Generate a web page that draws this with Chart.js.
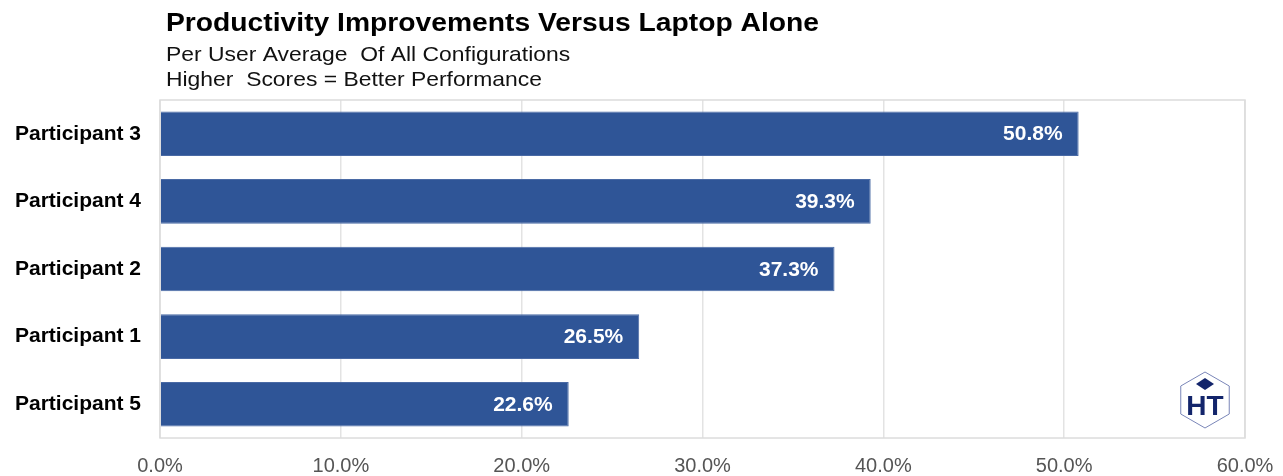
<!DOCTYPE html>
<html lang="en">
<head>
    <meta charset="UTF-8">
    <title>Productivity Improvements</title>
    <style>
        body { margin: 0; background: #fff; }
        #wrap { width: 1283px; height: 476px; }
    </style>
</head>
<body>

    <div id="wrap">
        <canvas id="myChart"></canvas>
    </div>

    <script src="https://cdn.jsdelivr.net/npm/chart.js@4.4.0/dist/chart.umd.min.js"></script>

    <script>

const participants = ['Participant 3', 'Participant 4', 'Participant 2', 'Participant 1', 'Participant 5'];
const improvement = [50.8, 39.3, 37.3, 26.5, 22.6];

const titleText = 'Productivity Improvements Versus Laptop Alone';
const subtitleLines = ['Per User Average  Of All Configurations', 'Higher  Scores = Better Performance'];

const FONT = '"Liberation Sans", Arial, sans-serif';

// reference text renders a touch wider than Liberation Sans -> stretch it a little
function wideText(ctx, text, x, y, sx) {
  ctx.save();
  ctx.translate(x, y);
  ctx.scale(sx, 1);
  ctx.fillText(text, 0, 0);
  ctx.restore();
}

// titles, value labels, plot frame, logo
const extras = {
  id: 'extras',
  afterDatasetsDraw(chart) {
    const ctx = chart.ctx;
    const area = chart.chartArea;
    ctx.save();
    ctx.strokeStyle = '#dcdcdc';
    ctx.lineWidth = 1.5;
    ctx.strokeRect(area.left, area.top, area.right - area.left, area.bottom - area.top);

    // title + subtitle
    ctx.textAlign = 'left';
    ctx.textBaseline = 'alphabetic';
    ctx.fillStyle = '#000';
    ctx.font = 'bold 25px ' + FONT;
    wideText(ctx, titleText, 166, 31, 1.13);
    ctx.font = '21px ' + FONT;
    ctx.fillStyle = '#111';
    wideText(ctx, subtitleLines[0], 166, 61, 1.09);
    wideText(ctx, subtitleLines[1], 166, 86, 1.09);

    // value labels
    ctx.font = 'bold 20px ' + FONT;
    ctx.fillStyle = '#ffffff';
    ctx.textAlign = 'right';
    ctx.textBaseline = 'middle';
    chart.getDatasetMeta(0).data.forEach((bar, i) => {
      wideText(ctx, improvement[i].toFixed(1) + '%', bar.x - 16, bar.y + 1, 1.05);
    });

    // small cube logo
    const cx = 1205, cy = 400, r = 28;
    ctx.beginPath();
    for (let k = 0; k < 6; k++) {
      const a = Math.PI / 6 + k * Math.PI / 3;
      const px = cx + r * Math.cos(a), py = cy + r * Math.sin(a);
      k ? ctx.lineTo(px, py) : ctx.moveTo(px, py);
    }
    ctx.closePath();
    ctx.strokeStyle = '#7a86b8';
    ctx.lineWidth = 1;
    ctx.stroke();
    ctx.fillStyle = '#13256b';
    ctx.font = 'bold 28px ' + FONT;
    ctx.textAlign = 'center';
    ctx.fillText('HT', cx, cy + 7);
    ctx.beginPath();
    ctx.moveTo(cx, cy - 22); ctx.lineTo(cx + 9, cy - 16); ctx.lineTo(cx, cy - 10); ctx.lineTo(cx - 9, cy - 16);
    ctx.closePath();
    ctx.fill();
    ctx.restore();
  }
};

const config = {
  type: 'bar',
  data: {
    labels: participants,
    datasets: [
      {
        label: 'Improvement',
        backgroundColor: '#2f5597',
        borderColor: '#4a6aa5',
        borderWidth: 1,
        categoryPercentage: 1.0,
        barPercentage: 0.66,
        data: improvement
      }
    ]
  },
  options: {
    indexAxis: 'y',
    responsive: true,
    maintainAspectRatio: false,
    animation: false,
    layout: { padding: { left: -4, right: 0, top: 100, bottom: -18 } },
    plugins: {
      legend: { display: false },
      tooltip: { enabled: false }
    },
    scales: {
      x: {
        min: 0,
        max: 60,
        afterFit: scale => { scale.paddingRight = 38; },
        ticks: {
          stepSize: 10,
          color: '#555',
          padding: 16,
          font: { family: FONT, size: 20 },
          callback: v => v.toFixed(1) + '%'
        },
        grid: { color: '#e3e3e3', lineWidth: 1.5, drawTicks: false },
        border: { display: false }
      },
      y: {
        ticks: {
          color: '#000',
          padding: 19,
          font: { family: FONT, size: 21, weight: 'bold' }
        },
        grid: { display: false, drawTicks: false },
        border: { display: false }
      }
    }
  },
  plugins: [extras]
};

const myChart = new Chart(document.getElementById('myChart'), config);

    </script>

</body>
</html>
